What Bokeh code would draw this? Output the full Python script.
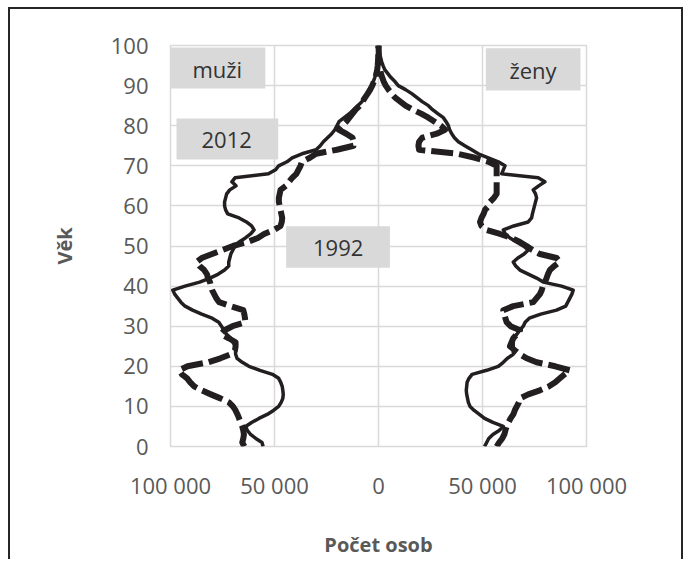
from bokeh.plotting import figure
from bokeh.models import Range1d, FixedTicker, Label
from bokeh.embed import file_html
from bokeh.resources import INLINE

# ---- data ----
ages = list(range(0, 101))

muzi_2012 = [55500, 56000, 59000, 61500, 63000, 63900, 61000, 57500, 53500, 50500,
             48000, 46800, 46000, 45800, 46000, 46300, 47000, 48000, 51000, 57000,
             62300, 65500, 68000, 68700, 68700, 68700, 70000, 71000, 73000, 74400,
             75500, 76800, 80000, 85000, 89400, 93000, 95000, 96500, 98000, 98900,
             93000, 86000, 81000, 77000, 74000, 72000, 72000, 71500, 71000, 70000,
             69000, 67000, 64000, 61500, 59800, 61000, 63500, 67000, 72500, 73500,
             74000, 74000, 73500, 73000, 71500, 68500, 70500, 69000, 52900, 49500,
             48000, 44000, 41500, 36800, 30000, 28000, 26500, 24500, 22500, 21000,
             20000, 19000, 16500, 14000, 12000, 10000, 8000, 6500, 5000, 4000,
             3300, 2500, 1800, 1200, 800, 500, 300, 200, 100, 80, 50]

muzi_1992 = [64500, 65500, 65000, 64700, 65000, 65500, 66300, 67000, 67800, 68700,
             70000, 71900, 76000, 80600, 85000, 88600, 90500, 92000, 94500, 95800,
             91800, 82000, 76000, 71000, 69000, 68700, 68700, 72000, 75800, 74000,
             70200, 64000, 64200, 64500, 65000, 71000, 76600, 78000, 79000, 80000,
             80600, 81000, 82000, 82500, 83800, 86000, 87500, 85000, 80000, 75000,
             70000, 63000, 58000, 55000, 50300, 47100, 46500, 46300, 46700, 47100,
             47500, 47900, 47900, 47500, 47100, 44500, 43100, 41500, 39500, 38500,
             37500, 36800, 33000, 30000, 20000, 12000, 12000, 12500, 15500, 19200,
             17500, 15500, 14000, 12500, 11000, 9000, 7700, 6500, 5200, 4000,
             3000, 2200, 1500, 1000, 600, 400, 250, 150, 100, 60, 40]

zeny_2012 = [51000, 52000, 53000, 55000, 58000, 60000, 55000, 51000, 48500, 46000,
             44000, 43200, 42800, 42400, 42200, 42400, 42600, 43500, 45000, 52000,
             57600, 60000, 62000, 64800, 64800, 64800, 64800, 64800, 66500, 68000,
             69600, 70500, 72500, 78000, 85600, 90000, 91000, 92000, 93000, 93600,
             88000, 79200, 76000, 72000, 68000, 66000, 64800, 67000, 70000, 72000,
             69600, 66400, 63200, 61000, 60000, 65000, 72000, 73600, 74000, 74500,
             75000, 75500, 76000, 75500, 74400, 77000, 80000, 76800, 59200, 60000,
             60800, 57600, 52800, 48000, 44800, 41500, 38400, 36500, 35200, 34200,
             33600, 32500, 31200, 28500, 26000, 24000, 21000, 18500, 16000, 13000,
             9500, 7900, 6000, 4500, 3000, 2200, 1500, 1000, 600, 400, 300]

zeny_1992 = [56800, 58000, 59500, 60500, 61000, 61600, 62500, 63500, 64800, 65500,
             66500, 67500, 68000, 72000, 77600, 82000, 85000, 87200, 89500, 92000,
             85000, 76000, 71200, 68000, 65500, 63200, 64000, 64800, 66500, 68000,
             63500, 61600, 61000, 60500, 60000, 64800, 74400, 76000, 77600, 78500,
             79000, 80000, 80800, 81500, 82400, 84500, 87200, 85600, 77600, 74000,
             71200, 68000, 64000, 58400, 52000, 49500, 48800, 49500, 50500, 51200,
             53000, 53600, 55500, 56800, 56800, 56800, 56800, 56800, 56800, 56800,
             56800, 53000, 46400, 38000, 19500, 19200, 19500, 21000, 28000, 32000,
             30000, 27000, 24000, 20500, 16500, 13000, 10500, 8000, 6300, 4800,
             3500, 2500, 1800, 1200, 800, 500, 300, 200, 120, 80, 50]

x_ticks = [-100000, -50000, 0, 50000, 100000]
x_tick_labels = ["100 000", "50 000", "0", "50 000", "100 000"]
y_ticks = [0, 10, 20, 30, 40, 50, 60, 70, 80, 90, 100]

box_labels = ["muži", "2012", "1992", "ženy"]

# ---- figure ----
FONT = "Open Sans"
INK = "#231f20"
GRID = "#d9d9d9"

p = figure(width=675, height=552, x_range=Range1d(-100000, 100000), y_range=Range1d(0, 100),
           output_backend="svg", toolbar_location=None,
           min_border_left=160, min_border_right=99, min_border_top=36, min_border_bottom=115)
p.styles = {"margin-left": "8px", "margin-top": "7px",
            "border-top": "2px solid #262626", "border-left": "2px solid #262626",
            "border-right": "2px solid #262626"}
p.outline_line_color = GRID
p.outline_line_width = 1.5
p.background_fill_color = "white"
p.border_fill_color = "white"

for ax in (p.xaxis[0], p.yaxis[0]):
    ax.axis_line_color = None
    ax.major_tick_line_color = None
    ax.minor_tick_line_color = None
    ax.major_label_text_font = FONT
    ax.major_label_text_font_size = "22px"
    ax.major_label_text_color = "#595959"
    ax.axis_label_text_font = FONT
    ax.axis_label_text_font_size = "20px"
    ax.axis_label_text_font_style = "bold"
    ax.axis_label_text_color = "#595959"

p.xaxis.ticker = FixedTicker(ticks=x_ticks)
p.xaxis.major_label_overrides = {t: l for t, l in zip(x_ticks, x_tick_labels)}
p.yaxis.ticker = FixedTicker(ticks=y_ticks)
p.xgrid.ticker = FixedTicker(ticks=x_ticks)
p.ygrid.ticker = FixedTicker(ticks=y_ticks)
for g in (p.xgrid[0], p.ygrid[0]):
    g.grid_line_color = GRID
    g.grid_line_width = 1.5

p.xaxis.axis_label = "Počet osob"
p.yaxis.axis_label = "Věk"
p.xaxis.major_label_standoff = 17
p.xaxis.axis_label_standoff = 28
p.yaxis.major_label_standoff = 16
p.yaxis.axis_label_standoff = 30

# label boxes (annotation layout)
boxes = [(-100000, -54400, 99.5, 89.3), (-97100, -48200, 81.8, 71.6),
         (-44400, 5500, 54.9, 44.6), (51600, 97100, 99.3, 88.8)]
text_pos = [(-77500, 94.2), (-73000, 76.5), (-19400, 49.6), (74300, 94.0)]
p.quad(left=[b[0] for b in boxes], right=[b[1] for b in boxes],
       top=[b[2] for b in boxes], bottom=[b[3] for b in boxes],
       fill_color=GRID, line_color=None)
for (tx, ty), t in zip(text_pos, box_labels):
    p.add_layout(Label(x=tx, y=ty, text=t, text_align="center", text_baseline="middle",
                       text_font=FONT, text_font_size="22px", text_color="#333333"))

# 1992 dashed
p.line([-v for v in muzi_1992], ages, line_color=INK, line_width=6, line_dash="22 6",
       line_join="round")
p.line(zeny_1992, ages, line_color=INK, line_width=6, line_dash="22 6", line_join="round")
# 2012 solid
p.line([-v for v in muzi_2012], ages, line_color=INK, line_width=3.5, line_join="round")
p.line(zeny_2012, ages, line_color=INK, line_width=3.5, line_join="round")

open("out.html", "w").write(file_html(p, INLINE))
